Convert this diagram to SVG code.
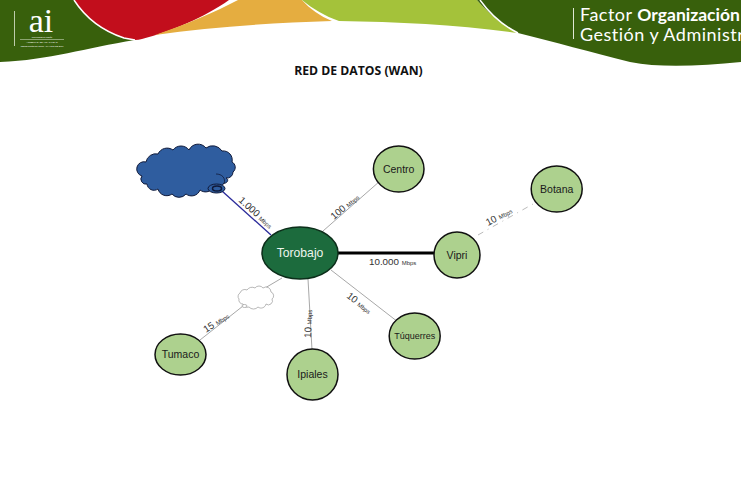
<svg xmlns="http://www.w3.org/2000/svg" width="741" height="486" viewBox="0 0 741 486">
<style>
text{font-family:"Liberation Sans",Arial,sans-serif;fill:#1a1a1a}
.node{fill:#add18e;stroke:#111;stroke-width:1.5}
.n{font-size:10.5px;text-anchor:middle}
.link{stroke:#a8a8a8;stroke-width:1;fill:none}
.l{font-size:9.8px;fill:#333}
.m{font-size:6px}
.hd{font-family:"Lato","Open Sans",sans-serif;font-size:18px;fill:#fff;letter-spacing:.5px}
.tiny{font-size:2.1px;fill:#fff;text-anchor:middle}
.bump{fill:#2f5d9f;stroke:#101a3a;stroke-width:1}
</style>
<rect width="741" height="486" fill="#fff"/>
<g id="header">
<path d="M0 0H82C90 18 105 34 135 40C85 48 50 60 0 62Z" fill="#38600c"/>
<path d="M74 0H229C205 17 170 32 142 39C136 41 130 40 124 38C100 30 85 17 74 0Z" fill="#c20e1c"/>
<path d="M74 0C85 17 100 30 124 38L135 40" fill="none" stroke="#fff" stroke-width="1.5"/>
<path d="M155 35C185 25 215 12 238 0H302C310 9 320 16 332 21C270 23 210 27 155 35Z" fill="#e5ad40"/>
<path d="M302 0H477C490 15 505 27 518 33C460 25 400 22 339 21C325 16 313 9 302 0Z" fill="#a4c23a"/>
<path d="M477 0H741V62C700 66 660 68 630 62C590 52 555 42 518 33C505 27 490 15 477 0Z" fill="#38600c"/>
<path d="M480 0C490 14 504 26 518 33" fill="none" stroke="#fff" stroke-width="1.5"/>
<rect x="14" y="11" width="0.8" height="35" fill="#dfe8d4"/>
<rect x="573" y="8" width="1" height="31" fill="#dfe8d4"/>
<rect x="20" y="39.500" width="44" height="0.500" fill="#dfe8d4"/>
<text x="41" y="32" font-size="34" text-anchor="middle" style="font-family:'Liberation Serif',serif;fill:#fff">ai</text>
<text x="42" y="38" class="tiny">Universidad de Nariño</text>
<text x="42" y="43" class="tiny">ACREDITADA EN ALTA CALIDAD</text>
<text x="42" y="46.500" class="tiny">RESOLUCIÓN No 10567 - MAYO 27 DE 2017</text>
<text x="580" y="21" class="hd">Factor <tspan font-weight="700" letter-spacing="0" font-size="17.500">Organización</tspan></text>
<text x="580" y="41" class="hd">Gestión y Administr</text>
</g>
<text id="title" x="358.500" y="75" font-size="12.200" font-weight="700" text-anchor="middle" style="font-family:'Open Sans','Liberation Sans',sans-serif;fill:#111">RED DE DATOS (WAN)</text>
<g id="connectors">
<line x1="222" y1="191" x2="271" y2="235" stroke="#2b2b9b" stroke-width="1.3"/>
<line class="link" x1="323" y1="231" x2="380" y2="181"/>
<line x1="337" y1="253" x2="435" y2="253" stroke="#000" stroke-width="3"/>
<line x1="478" y1="235" x2="533" y2="204" stroke="#bbb" stroke-width="1" stroke-dasharray="6 5 1 5"/>
<line class="link" x1="331" y1="270" x2="398" y2="322"/>
<line class="link" x1="308" y1="279" x2="312" y2="350"/>
<line class="link" x1="282" y1="278" x2="265" y2="288"/>
<line class="link" x1="243" y1="306" x2="200" y2="340"/>
</g>
<g id="cloud-internet">
<path class="bump" d="M146 162A10 10 0 0 1 158 154A10 10 0 0 1 173 150A10 10 0 0 1 189 150A10 10 0 0 1 206 148A11 11 0 0 1 222 151A9 9 0 0 1 232 162A6 6 0 0 1 233 172A6 6 0 0 1 226 178C230 180 226 184 224 183A7 7 0 0 1 214 186A9 9 0 0 1 200 190A9 9 0 0 1 186 194A9 9 0 0 1 172 194A9 9 0 0 1 158 189A7 7 0 0 1 147 184A5 5 0 0 1 142 176A5 5 0 0 1 146 162Z"/>
<path d="M216 174C222 174 226 178 224 184" fill="none" stroke="#101a3a" stroke-width="0.8"/>
<ellipse cx="216.500" cy="188.500" rx="8.500" ry="4.500" class="bump"/>
<ellipse cx="217" cy="188.500" rx="4.500" ry="2.500" fill="#2f5d9f" stroke="#101a3a" stroke-width="1.500"/>
</g>
<g id="cloud-tumaco">
<path d="M239 299A4 4 0 0 1 240 293A5 5 0 0 1 247 290A6 6 0 0 1 255 288A5 5 0 0 1 263 288A5 5 0 0 1 271 292A4 4 0 0 1 272 299A4 4 0 0 1 266 304A5 5 0 0 1 258 307A6 6 0 0 1 249 307A5 5 0 0 1 243 304A4 4 0 0 1 239 299Z" fill="#fff" stroke="#999" stroke-width="0.700"/>
<ellipse cx="244.500" cy="306" rx="2.500" ry="1.500" fill="#fff" stroke="#999" stroke-width="0.700"/>
</g>
<g id="node-torobajo">
<ellipse cx="300" cy="253" rx="38" ry="26" fill="#1c6b3d" stroke="#0c2e1a" stroke-width="1.500"/>
<text x="300" y="257" class="n" style="font-size:12.200px;fill:#eef5ee">Torobajo</text>
</g>
<g id="node-centro"><ellipse cx="398.700" cy="169" rx="25.300" ry="23" class="node"/><text x="398.700" y="172.500" class="n">Centro</text></g>
<g id="node-vipri"><circle cx="457" cy="255" r="23" class="node"/><text x="457" y="259" class="n">Vipri</text></g>
<g id="node-botana"><ellipse cx="556.700" cy="189" rx="25.500" ry="23" class="node"/><text x="556.700" y="193" class="n">Botana</text></g>
<g id="node-tuquerres"><ellipse cx="414.700" cy="336" rx="25.500" ry="23" class="node"/><text x="414.700" y="339" class="n" style="font-size:9px">Túquerres</text></g>
<g id="node-ipiales"><circle cx="312.500" cy="374.500" r="25.500" class="node"/><text x="312.500" y="378" class="n">Ipiales</text></g>
<g id="node-tumaco"><ellipse cx="180.500" cy="354.500" rx="25.500" ry="20.500" class="node"/><text x="180.500" y="358" class="n">Tumaco</text></g>
<g id="labels">
<text transform="translate(238 201) rotate(42)" class="l">1.000 <tspan class="m">Mbps</tspan></text>
<text transform="translate(334 220) rotate(-40)" class="l">100 <tspan class="m">Mbps</tspan></text>
<text x="369" y="265" class="l">10.000 <tspan class="m">Mbps</tspan></text>
<text transform="translate(488 226) rotate(-28)" class="l">10 <tspan class="m">Mbps</tspan></text>
<text transform="translate(346 297) rotate(38)" class="l">10 <tspan class="m">Mbps</tspan></text>
<text transform="translate(311 338) rotate(-88)" class="l">10 <tspan class="m">Mbps</tspan></text>
<text transform="translate(206 333) rotate(-33)" class="l">15 <tspan class="m">Mbps</tspan></text>
</g>
</svg>
